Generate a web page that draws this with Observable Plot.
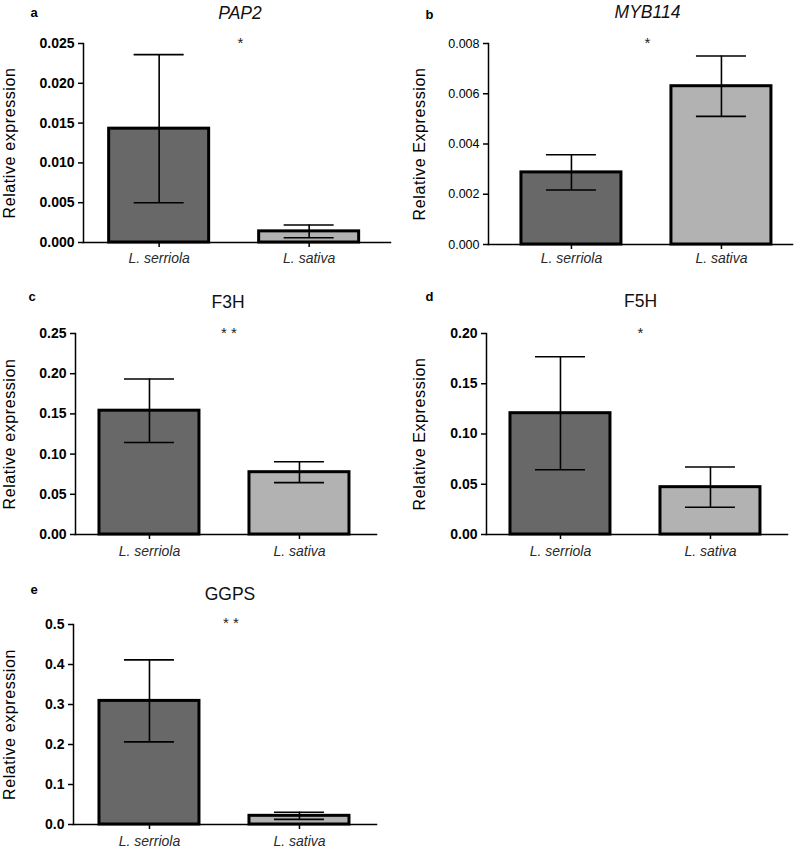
<!DOCTYPE html>
<html>
<head>
<meta charset="utf-8">
<script src="https://cdn.jsdelivr.net/npm/d3@7"></script>
<script src="https://cdn.jsdelivr.net/npm/@observablehq/plot@0.6"></script>
<style>
  body { margin: 0; background: #fff; }
  #wrap { position: relative; width: 800px; height: 850px; background: #fff; }
  .panel { position: absolute; }
  .panel svg { overflow: visible; }
</style>
</head>
<body>
<div id="wrap"></div>
<script>
// ---- data ----
const groups = ["L. serriola", "L. sativa"];
const groupFills = ["#686868", "#b2b2b2"];
const panelLetters = ["a", "b", "c", "d", "e"];
const geneNames = ["PAP2", "MYB114", "F3H", "F5H", "GGPS"];
const geneItalic = [true, true, false, false, false];
const yAxisLabels = ["Relative expression", "Relative Expression", "Relative expression", "Relative Expression", "Relative expression"];
const significance = ["*", "*", "* *", "*", "* *"];
const yMax = [0.025, 0.008, 0.25, 0.20, 0.5];
const yStep = [0.005, 0.002, 0.05, 0.05, 0.1];
const yFormat = [".3f", ".3f", ".2f", ".2f", ".1f"];

const meanPAP2 = [0.0143, 0.0014];
const semPAP2 = [0.0093, 0.0008];
const meanMYB114 = [0.00287, 0.0063];
const semMYB114 = [0.0007, 0.0012];
const meanF3H = [0.154, 0.0775];
const semF3H = [0.0395, 0.013];
const meanF5H = [0.1207, 0.0471];
const semF5H = [0.0562, 0.020];
const meanGGPS = [0.309, 0.0217];
const semGGPS = [0.1025, 0.009];

const means = [meanPAP2, meanMYB114, meanF3H, meanF5H, meanGGPS];
const sems = [semPAP2, semMYB114, semF3H, semF5H, semGGPS];

// ---- layout (positions / styles only) ----
const layout = [
  {left: 0,   top: 0,   height: 270, mt: 43, mb: 28, ml: 83, mr: 10, align: 0.45, tw: "bold",   tf: 14,   xPad: 6, tDx: 3,   tDy: -30.3, sDx: 3.5, sDy: 0,    lDx: -53, lDy: -30.5, yDx: -73.4},
  {left: 400, top: 0,   height: 272, mt: 43, mb: 28, ml: 88, mr: 8,  align: 0.61, tw: "normal", tf: 12.5, xPad: 4, tDx: 7,   tDy: -31,   sDx: 7,   sDy: 0,    lDx: -63, lDy: -29,   yDx: -68.4},
  {left: 0,   top: 280, height: 282, mt: 53, mb: 28, ml: 75, mr: 24, align: 0.47, tw: "bold",   tf: 14,   xPad: 7, tDx: 2,   tDy: -31,   sDx: 3,   sDy: 0,    lDx: -47, lDy: -36.7, yDx: -66},
  {left: 400, top: 280, height: 282, mt: 53, mb: 28, ml: 86, mr: 13, align: 0.47, tw: "bold",   tf: 14,   xPad: 7, tDx: 3.5, tDy: -32,   sDx: 3.5, sDy: -0.5, lDx: -61, lDy: -37,   yDx: -66.4},
  {left: 0,   top: 540, height: 310, mt: 84, mb: 26, ml: 73, mr: 24, align: 0.49, tw: "bold",   tf: 14,   xPad: 7, tDx: 5,   tDy: -30,   sDx: 6,   sDy: -1,   lDx: -43, lDy: -34.3, yDx: -63.4}
];
const panelWidth = 400;
const barWidth = 100;
const font = "'Liberation Sans', Arial, Helvetica, sans-serif";

const wrap = document.getElementById("wrap");

layout.forEach((L, i) => {
  const rows = groups.map((g, j) => ({
    group: g,
    mean: means[i][j],
    lo: means[i][j] - sems[i][j],
    hi: means[i][j] + sems[i][j]
  }));
  const rangeLen = panelWidth - L.ml - L.mr;
  const step = barWidth * 1.5;
  const paddingOuter = (rangeLen / step - 2 + 1 / 3) / 2;
  const ticks = d3.range(0, yMax[i] + yStep[i] / 2, yStep[i]);

  const svg = Plot.plot({
    width: panelWidth,
    height: L.height,
    marginTop: L.mt,
    marginBottom: L.mb,
    marginLeft: L.ml,
    marginRight: L.mr,
    style: {fontFamily: font, background: "transparent", overflow: "visible", color: "#000"},
    x: {domain: groups, paddingInner: 1 / 3, paddingOuter, align: L.align, round: false, axis: null},
    y: {domain: [0, yMax[i]], axis: null},
    color: {domain: groups, range: groupFills},
    marks: [
      Plot.barY(rows, {x: "group", y: "mean", fill: "group", stroke: "#000", strokeWidth: 3}),
      Plot.ruleX(rows, {x: "group", y1: "lo", y2: "hi", stroke: "#000", strokeWidth: 1.6}),
      Plot.tickY(rows, {x: "group", y: "hi", stroke: "#000", strokeWidth: 1.6, insetLeft: 25, insetRight: 25}),
      Plot.tickY(rows, {x: "group", y: "lo", stroke: "#000", strokeWidth: 1.6, insetLeft: 25, insetRight: 25}),
      Plot.frame({anchor: "left", stroke: "#000", strokeWidth: 1.5}),
      Plot.frame({anchor: "bottom", stroke: "#000", strokeWidth: 1.5}),
      Plot.axisY({ticks, tickFormat: d3.format(yFormat[i]), tickSize: 5, tickPadding: 4, strokeWidth: 1.5,
                  fontSize: L.tf, fontWeight: L.tw, fill: "#000", label: null}),
      Plot.axisX({tickSize: 5, tickPadding: L.xPad, strokeWidth: 1.5, fontSize: 14, fontStyle: "italic",
                  fill: "#2a2a2a", label: null}),
      Plot.text([yAxisLabels[i]], {text: d => d, frameAnchor: "left", textAnchor: "middle", rotate: -90, dx: L.yDx,
                  fontSize: 16, fill: "#000", lineAnchor: "middle"}),
      Plot.text([geneNames[i]], {text: d => d, frameAnchor: "top", textAnchor: "middle", dx: L.tDx, dy: L.tDy, lineAnchor: "middle",
                  fontSize: 17.5, fontStyle: geneItalic[i] ? "italic" : "normal", fill: "#111"}),
      Plot.text([significance[i]], {text: d => d, frameAnchor: "top", textAnchor: "middle", dx: L.sDx, dy: L.sDy, lineAnchor: "middle",
                  fontSize: 15, fill: "#222"}),
      Plot.text([panelLetters[i]], {text: d => d, frameAnchor: "top-left", textAnchor: "start", dx: L.lDx, dy: L.lDy,
                  lineAnchor: "middle", fontSize: 13, fontWeight: "bold", fill: "#000"})
    ]
  });

  // slight letter spacing on the rotated axis title
  d3.select(svg).selectAll("text").filter(function () { return this.textContent === yAxisLabels[i]; })
    .style("letter-spacing", "0.6px");

  const div = document.createElement("div");
  div.className = "panel";
  div.style.left = L.left + "px";
  div.style.top = L.top + "px";
  div.appendChild(svg);
  wrap.appendChild(div);
});
</script>
</body>
</html>
